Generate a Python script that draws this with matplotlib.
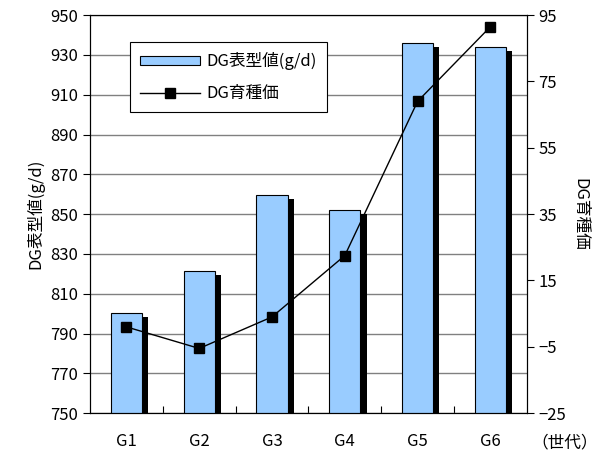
import numpy as np
import matplotlib as mpl
import matplotlib.pyplot as plt

plt.rcParams['font.family'] = ['Noto Sans CJK JP', 'DejaVu Sans']

generations = ['G1', 'G2', 'G3', 'G4', 'G5', 'G6']
dg_phenotype = [800.5, 821.5, 859.5, 852, 936, 934]
dg_breeding = [1, -5.5, 4, 22.5, 69, 91.5]

left_ticks = np.arange(750, 951, 20)
right_ticks = np.arange(-25, 96, 20)

fig = plt.figure(figsize=(6, 4.58), dpi=100)
ax = fig.add_axes([0.15, 0.098, 0.728, 0.869])

x = np.arange(len(generations))
width = 0.43
fs = 12

# black shadow behind each bar
ax.bar(x + 0.085, np.array(dg_phenotype) - 750 - 2, width, bottom=750,
       color='black', zorder=2)
bars = ax.bar(x, np.array(dg_phenotype) - 750, width, bottom=750,
              color='#99CCFF', edgecolor='black', linewidth=0.8, zorder=3,
              label='DG表型値(g/d)')

ax.set_xlim(-0.5, len(generations) - 0.5)
ax.set_ylim(750, 950)
ax.set_yticks(left_ticks)
ax.set_xticks(x)
ax.set_xticklabels(generations)
ax.set_xticks(np.arange(0.5, len(generations) - 0.5, 1), minor=True)
ax.tick_params(axis='x', which='major', length=0, pad=14, labelsize=fs)
ax.tick_params(axis='x', which='minor', direction='in', length=5, width=0.8)
ax.tick_params(axis='y', direction='out', length=5, width=0.8, labelsize=fs)
ax.grid(axis='y', color='#808080', linewidth=1, zorder=0)
ax.set_axisbelow(True)
ax.set_ylabel('DG表型値(g/d)', fontsize=fs, labelpad=4)
for s in ax.spines.values():
    s.set_linewidth(0.8)

ax2 = ax.twinx()
ax2.plot(x, dg_breeding, color='black', linewidth=1, marker='s',
         markersize=7, label='DG育種価', zorder=5)
ax2.set_ylim(-25, 95)
ax2.set_yticks(right_ticks)
ax2.tick_params(axis='y', direction='out', length=5, width=0.8, labelsize=fs)
ax2.set_ylabel('DG育種価', fontsize=fs, rotation=-90, labelpad=16)

ax.text(1.163, -0.075, '（世代）', transform=ax.transAxes, fontsize=fs,
        ha='right', va='center')

handles = [bars, ax2.get_lines()[0]]
leg = ax2.legend(handles, ['DG表型値(g/d)', 'DG育種価'], loc='upper left',
                 bbox_to_anchor=(0.092, 0.932), borderaxespad=0,
                 frameon=True, fancybox=False,
                 edgecolor='black', framealpha=1, fontsize=fs,
                 handlelength=3.6, handleheight=0.5, handletextpad=0.4,
                 borderpad=0.6, labelspacing=0.9)
leg.get_frame().set_linewidth(0.8)

fig.savefig('out.png', dpi=100)
